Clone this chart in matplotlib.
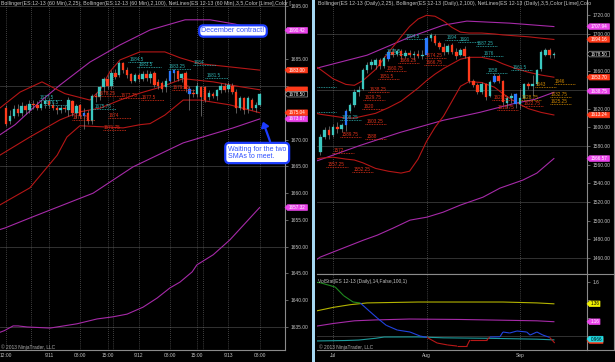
import matplotlib
matplotlib.use('Agg')
import matplotlib.pyplot as plt
import numpy as np
from matplotlib.patches import Polygon, Rectangle, FancyArrowPatch
from matplotlib.lines import Line2D
from matplotlib.collections import LineCollection
from matplotlib.transforms import IdentityTransform

plt.rcParams['font.family'] = ['Liberation Sans', 'DejaVu Sans']

# ---------------- data : left (60 min) ----------------
left_bars = list(range(-11, 55))
left_open = [1676.0, 1673.5, 1674.5, 1675.75, 1675.0, 1676.25, 1675.5, 1676.75, 1676.5, 1676.0, 1676.75,
             1677.25, 1676.5, 1676.0, 1675.5, 1676.0, 1675.5, 1677.25, 1675.0, 1676.5, 1674.5, 1675.0,
             1673.5, 1678.25, 1678.0, 1679.75, 1681.25, 1680.0, 1682.5, 1682.0, 1684.25, 1683.0, 1682.25,
             1681.0, 1682.0, 1681.25, 1682.25, 1681.5, 1682.5, 1680.75, 1680.5, 1679.75, 1681.0, 1682.5,
             1682.75, 1681.5, 1682.5, 1679.5, 1678.75, 1678.5, 1679.75, 1679.75, 1678.0, 1678.5, 1678.25,
             1679.25, 1680.0, 1679.5, 1680.0, 1679.0, 1676.0, 1677.75, 1675.75, 1677.5, 1676.0, 1676.5]
left_close = [1673.0, 1674.5, 1675.75, 1675.0, 1676.25, 1675.5, 1676.75, 1676.5, 1676.0, 1676.75, 1677.25,
              1676.5, 1676.0, 1675.5, 1676.0, 1675.75, 1677.5, 1675.0, 1676.25, 1674.5, 1675.0, 1673.5,
              1678.25, 1678.0, 1679.75, 1681.25, 1680.0, 1682.5, 1681.75, 1684.25, 1683.0, 1682.0, 1681.0,
              1682.0, 1681.25, 1682.25, 1681.5, 1682.25, 1680.25, 1680.0, 1679.5, 1681.0, 1682.75, 1683.0,
              1681.25, 1682.25, 1679.5, 1678.5, 1678.5, 1680.0, 1678.0, 1677.5, 1678.75, 1678.25, 1679.25,
              1680.0, 1679.25, 1680.25, 1679.0, 1676.0, 1677.75, 1675.5, 1677.75, 1676.0, 1676.5, 1678.5]
left_high = [1676.5, 1675.5, 1676.5, 1676.75, 1677.0, 1676.75, 1677.5, 1677.5, 1677.25, 1677.5, 1677.75,
             1677.75, 1677.0, 1676.5, 1676.5, 1676.5, 1678.0, 1677.5, 1676.75, 1676.75, 1676.0, 1675.5,
             1678.5, 1678.75, 1680.0, 1681.75, 1682.0, 1683.0, 1683.25, 1684.75, 1684.5, 1683.5, 1682.5,
             1682.5, 1682.5, 1682.75, 1683.0, 1682.75, 1682.75, 1681.25, 1681.0, 1681.5, 1683.0, 1683.25,
             1683.0, 1682.5, 1682.75, 1680.0, 1679.5, 1680.75, 1680.0, 1680.0, 1679.25, 1679.0, 1679.5,
             1680.5, 1680.5, 1680.75, 1680.5, 1679.5, 1678.25, 1678.0, 1678.25, 1677.75, 1677.0, 1678.75]
left_low = [1672.5, 1673.0, 1674.0, 1674.5, 1674.5, 1674.75, 1675.0, 1675.75, 1675.5, 1675.5, 1676.0,
            1676.0, 1675.5, 1674.75, 1675.0, 1675.25, 1674.5, 1674.5, 1674.0, 1674.0, 1672.0, 1673.0,
            1673.0, 1677.0, 1677.5, 1679.0, 1679.5, 1679.5, 1681.25, 1681.75, 1682.5, 1681.5, 1680.5,
            1680.75, 1680.75, 1681.0, 1681.0, 1680.5, 1679.75, 1679.5, 1679.0, 1679.0, 1680.5, 1681.0,
            1681.0, 1680.75, 1679.0, 1675.5, 1678.0, 1678.0, 1674.5, 1677.0, 1677.5, 1677.75, 1677.5,
            1678.75, 1679.0, 1679.0, 1678.5, 1675.0, 1675.5, 1674.75, 1675.0, 1675.5, 1675.25, 1676.25]
left_blue_bars = [9, 31, 32, 36]

left_bb_up_x = [-12.6, -7.4, -1.8, 4.1, 10.5, 13.1, 15.6, 18.2, 23.3, 29.7, 33.6, 38.7, 46.4, 54]
left_bb_up = [1675.9, 1678.9, 1680.8, 1678.6, 1677.4, 1679.3, 1682.7, 1684.9, 1686.4, 1686.4, 1685.3, 1684.2, 1683.6, 1683.0]
left_bb_mid_x = [-12.6, -4.9, 2.8, 7.9, 13.1, 18.2, 23.3, 28.5, 34.4, 42.1, 49.0, 54]
left_bb_mid = [1667.1, 1670.5, 1673.7, 1675.2, 1675.9, 1677.4, 1678.7, 1679.8, 1681.4, 1680.8, 1679.9, 1679.33]
left_bb_lo_x = [-12.6, -4.9, 2.1, 4.6, 7.9, 13.8, 19.0, 23.3, 25.9, 29.7, 34.4, 38.7, 46.4, 54]
left_bb_lo = [1657.8, 1661.0, 1667.1, 1670.5, 1672.6, 1672.4, 1672.2, 1672.8, 1673.0, 1674.6, 1677.4, 1677.4, 1676.5, 1675.04]

left_b100_up_x = [-12.6, -8.7, -2.3, 2.8, 10.5, 18.2, 25.9, 34.9, 41.3, 47.7, 54]
left_b100_up = [1670.9, 1672.8, 1677.1, 1680.2, 1684.5, 1687.7, 1690.5, 1692.4, 1692.4, 1691.6, 1690.42]
left_b100_mid_x = [-12.6, -11.3, -4.1, 11.3, 21.5, 34.4, 47.2, 54]
left_b100_mid = [1653.2, 1653.5, 1655.6, 1660.0, 1664.9, 1669.4, 1672.2, 1673.87]
left_b100_lo_x = [-12.6, -11.5, -9.2, -7.9, -5.6, 0.3, 7.2, 12.3, 16.4, 20.0, 24.1, 27.7, 31.0, 33.6, 36.7, 37.9, 42.1, 46.4, 54]
left_b100_lo = [1634.0, 1634.3, 1635.2, 1635.2, 1635.0, 1634.8, 1635.6, 1636.5, 1636.9, 1637.4, 1638.7, 1640.4,
                1642.3, 1643.4, 1645.3, 1646.6, 1648.5, 1651.3, 1657.32]

left_xtick_pos = [-11, 0, 8, 15, 23, 31, 38, 46, 54]
left_xtick_lab = ['12:00', '9/11', '08:00', '15:00', '9/12', '08:00', '15:00', '9/13', '08:00']
left_session_lines = [-4.6, 16.4, 39.5]

left_net_text = ['1684.5', '1683.5', '1684', '1681.5', '1683.25', '1677.5', '1676.5', '1675.75',
                 '1678.25', '1677.75', '1677.5', '1674', '1673.75', '1679.25', '1671.75']
left_net_x = [20.3, 22.6, 36.9, 40.0, 30.5, -2.6, -1.3, 11.3, 12.5, 18.0, 23.5, 15.1, 5.9, 31.5, 13.8]
left_net_kind = ['t', 't', 't', 't', 't', 't', 't', 't', 'r', 'r', 'r', 'r', 'r', 'r', 'r']

left_title = ('Bollinger(ES 12-13 (60 Min),2,25), Bollinger(ES 12-13 (60 Min),2,100), '
              'NetLines(ES 12-13 (60 Min),3,5,Color [Lime],Color [')
right_title = ('Bollinger(ES 12-13 (Daily),2,25), Bollinger(ES 12-13 (Daily),2,100), '
               'NetLines(ES 12-13 (Daily),3,5,Color [Lime],Colo')

# ---------------- data : right (daily) ----------------
right_idx = list(range(-3, 53))
right_open = [1574, 1590, 1597, 1592, 1600, 1598, 1602, 1618, 1624, 1638, 1641, 1661, 1667, 1667, 1672, 1666,
              1673, 1681, 1679, 1682, 1676, 1680, 1677, 1679, 1676, 1678, 1696, 1698, 1690, 1686, 1681, 1688,
              1681, 1677, 1684, 1675, 1650, 1645, 1638, 1646, 1634, 1649, 1655, 1650, 1626, 1631, 1636, 1625,
              1631, 1646, 1644, 1646, 1662, 1678, 1683, 1677]
right_high = [1593, 1600, 1601, 1604, 1606, 1605, 1620, 1626, 1641, 1644, 1664, 1670, 1673, 1674, 1674, 1676,
              1683, 1685, 1684, 1684, 1683, 1683, 1682, 1683, 1683, 1698, 1701, 1700, 1693, 1690, 1689, 1690,
              1685, 1685, 1687, 1676, 1652, 1648, 1649, 1648, 1651, 1658, 1657, 1651, 1634, 1637, 1637, 1641,
              1648, 1649, 1656, 1662, 1683, 1685, 1685, 1681]
right_low = [1570, 1587, 1588, 1590, 1594, 1595, 1596, 1615, 1622, 1634, 1640, 1658, 1663, 1662, 1663, 1664,
             1671, 1675, 1676, 1673, 1674, 1675, 1672, 1674, 1673, 1677, 1692, 1688, 1684, 1678, 1679, 1679,
             1673, 1676, 1674, 1648, 1643, 1636, 1636, 1629, 1632, 1647, 1648, 1624, 1621, 1626, 1621, 1620,
             1630, 1641, 1634, 1645, 1660, 1676, 1674, 1674]
right_close = [1590, 1597, 1592, 1600, 1598, 1602, 1618, 1624, 1638, 1640, 1661, 1667, 1670, 1672, 1666, 1674,
               1681, 1678, 1682, 1676, 1680, 1677, 1679, 1676, 1678, 1696, 1699, 1690, 1686, 1681, 1687, 1681,
               1676, 1683, 1676, 1650, 1645, 1638, 1646, 1633, 1649, 1655, 1650, 1627, 1631, 1634, 1625, 1631,
               1646, 1644, 1646, 1661, 1681, 1683, 1677, 1678.5]
right_blue_idx = [3, 13, 22, 38, 43]

right_bb_x = [-4, -3, 0, 3, 5, 7, 10, 13, 16, 18, 20, 22, 24, 26, 28, 30, 32, 35, 38, 40, 43, 46, 49, 52]
right_bb_up = [1665, 1662, 1652, 1646, 1645, 1650, 1662, 1680, 1697, 1708, 1716, 1720, 1719, 1714, 1707, 1702,
               1701, 1701, 1700, 1699, 1698, 1697, 1695.5, 1694.16]
right_bb_mid = [1615, 1614, 1612, 1610, 1610, 1612, 1615, 1621, 1628, 1635, 1642, 1650, 1657, 1663, 1668, 1673,
                1675, 1675, 1672, 1668, 1663, 1659, 1656, 1653.70]
right_bb_lo = [1566, 1567, 1568, 1566, 1565, 1562, 1556, 1553, 1551, 1553, 1566, 1585, 1600, 1612, 1628, 1644,
               1649, 1648, 1643, 1636, 1627, 1620, 1616, 1613.24]

right_b100_up_x = [-4, -3, 8, 18, 26, 31.5, 41.6, 52]
right_b100_up = [1663.0, 1664.4, 1677.3, 1696.6, 1709.5, 1713.8, 1711.6, 1707.94]
right_b100_mid_x = [-4, -3.5, 6.4, 15.8, 25.9, 34.6, 42.8, 47.5, 52]
right_b100_mid = [1564.0, 1564.6, 1580.7, 1594.6, 1607.5, 1616.1, 1625.7, 1630.0, 1637.5]
right_b100_lo_x = [-4, -3.1, 7.1, 10.4, 14.1, 18.1, 22.1, 25.9, 29.9, 35.3, 39.3, 44.7, 48, 52]
right_b100_lo = [1458.0, 1460.9, 1479.1, 1484.5, 1492.0, 1500.6, 1503.8, 1509.1, 1516.6, 1525.2, 1534.9, 1543.5,
                 1551.0, 1566.57]

right_xtick_pos = [0, 22, 44]
right_xtick_lab = ['Jul', 'Aug', 'Sep']

right_net_text = ['1694', '1691', '1687.25', '1676', '1661.5', '1658', '1694.5', '1678.5', '1608.25',
                  '1674.25', '1669.25', '1666.75', '1660.75', '1651.5', '1638.25', '1629.75', '1620', '1603.25',
                  '1589.75', '1588', '1572', '1557.25', '1552.25', '1629.5', '1618.75', '1622.75',
                  '1643', '1646', '1632.75', '1628.75', '1625.25']
right_net_x = [26.4, 29.4, 33.6, 35.1, 41.9, 36.0, 16.9, 12.2, 1.6,
               21.6, 15.3, 21.5, 12.2, 10.6, 8.2, 7.1, 6.8, 7.5,
               1.6, 7.5, -0.2, -1.6, 4.5, 37.5, 38.5, 44.5,
               47.5, 52.0, 51.0, 44.0, 51.0]
right_net_kind = ['t'] * 9 + ['r'] * 17 + ['o'] * 5
right_stub_x = [-3.8, -3.8]
right_stub_p = [1643.0, 1616.0]

# VolStat panel
vs_yel_x = [-4, 0, 4, 8, 20, 40, 48, 52]
vs_yel = [1.28, 1.32, 1.35, 1.37, 1.38, 1.38, 1.37, 1.36]
vs_mag_x = [-4, 0, 5, 10, 18, 30, 42, 48, 52]
vs_mag = [1.11, 1.14, 1.17, 1.18, 1.19, 1.185, 1.175, 1.17, 1.16]
vs_teal_x = [-4, 3, 6, 10, 12, 20, 26, 36, 42, 48, 52]
vs_teal = [0.945, 0.95, 0.955, 0.975, 0.989, 0.99, 0.98, 0.975, 0.97, 0.965, 0.957]
vs_x = [-4, -3, 0.5, 2.5, 4.7, 6.4, 8.5, 10.4, 12.5, 15.1, 18.1, 20.5, 22.1, 24.5, 27, 29.2, 31.5, 32.2,
        36.2, 36.9, 39.3, 40, 41.6, 43.3, 45.6, 46.4, 48, 49.4, 51, 52.2]
vs_val = [1.60, 1.595, 1.547, 1.45, 1.38, 1.369, 1.28, 1.201, 1.12, 1.067, 1.045, 1.0, 0.985, 0.922, 0.9,
          0.888, 0.888, 0.955, 0.955, 0.989, 0.992, 1.045, 1.034, 1.056, 1.045, 1.011, 1.045, 1.011, 0.985, 0.922]

# ---------------- styles ----------------
BG = 'black'
AXIS = '#8a8a8a'
TXT = '#c4c4c4'
UP = '#3cc8c0'
DN = '#ff3b1c'
BLU = '#2a78ff'
WICK = '#8c8c8c'
BBRED = '#b51616'
MAG = '#a62aa8'
NETC = {'t': '#2fb2b2', 'r': '#e3321a', 'o': '#d08800'}
FS = 3.5

W, H = 615, 362
fig = plt.figure(figsize=(W / 100, H / 100), dpi=100, facecolor=BG)


def add_ax(x0, y0, x1, y1):
    ax = fig.add_axes([x0 / W, 1 - y1 / H, (x1 - x0) / W, (y1 - y0) / H])
    ax.set_facecolor(BG)
    for s in ['top', 'left']:
        ax.spines[s].set_visible(False)
    for s in ['right', 'bottom']:
        ax.spines[s].set_color(AXIS)
        ax.spines[s].set_linewidth(0.8)
    ax.yaxis.tick_right()
    ax.tick_params(axis='y', colors=AXIS, labelcolor=TXT, labelsize=FS, length=2.5, width=0.5,
                   pad=1.2, direction='out')
    ax.tick_params(axis='x', colors=AXIS, labelcolor=TXT, labelsize=FS, length=0, pad=2.5)
    return ax


def yticks_hidden(ax, ticks, labels, tagvals, thresh=5.0):
    out = []
    for t, lab in zip(ticks, labels):
        yt = ax.transData.transform((0, t))[1]
        hide = any(abs(ax.transData.transform((0, v))[1] - yt) < thresh for v in tagvals)
        out.append('' if hide else lab)
    ax.set_yticks(ticks)
    ax.set_yticklabels(out)


def candles(ax, xs, o, h, l, c, blue, w, minh):
    o = np.array(o, float); c = np.array(c, float)
    cols = [BLU if x in blue else (UP if cc >= oo else DN) for x, oo, cc in zip(xs, o, c)]
    ax.vlines(xs, l, h, color=WICK, lw=0.45, zorder=3)
    bottoms = np.minimum(o, c)
    heights = np.maximum(np.abs(c - o), minh)
    ax.bar(xs, heights, bottom=bottoms, width=w, color=cols, edgecolor=cols, lw=0.2, zorder=4)


def netlabels(ax, texts, xs, kinds, length):
    for t, x, k in zip(texts, xs, kinds):
        p = float(t)
        col = NETC[k]
        ax.plot([x, x + length], [p, p], ls=(0, (1, 1)), color=col, lw=0.6, zorder=5)
        ax.text(x + 0.3, p, t, color=col, fontsize=3.3, va='bottom', ha='left', zorder=6, clip_on=True)


def tag(ax, val, label, fc, tc, ec=None, w=22.5, h=5.6):
    x0 = ax.transAxes.transform((1, 0))[0]
    y = ax.transData.transform((0, val))[1]
    pts = [(x0, y), (x0 + 2.5, y + h / 2), (x0 + w, y + h / 2), (x0 + w, y - h / 2), (x0 + 2.5, y - h / 2)]
    fig.add_artist(Polygon(pts, closed=True, fc=fc, ec=ec or fc, lw=0.5, transform=IdentityTransform(),
                           zorder=5))
    if label:
        fig.text((x0 + 4.0) / W, y / H, label, color=tc, fontsize=3.3, va='center', ha='left', zorder=6)


MAGT = '#ea44ea'
REDT = '#ff3a1a'
left_tags = [(1690.42, MAGT), (1683.00, REDT), (1679.33, REDT), (1678.50, 'black'), (1675.04, REDT),
             (1673.87, MAGT), (1657.32, MAGT)]
right_tags = [(1707.94, MAGT), (1694.16, REDT), (1678.50, 'black'), (1653.70, REDT), (1638.75, MAGT),
              (1613.24, REDT), (1566.57, MAGT)]
vol_tags = [(1.36, '#f0f000'), (1.16, MAGT), (0.95, REDT), (0.966, '#20e0e8')]

# ---------------- left panel ----------------
axL = add_ax(0, 0, 285, 350)
axL.set_xlim(-12.56, 60.5)
axL.set_ylim(1630.7, 1696.1)
lt = list(np.arange(1635, 1696, 5))
yticks_hidden(axL, lt, [f'{v:.2f}' for v in lt], [v for v, _ in left_tags])
axL.set_xticks(left_xtick_pos)
axL.set_xticklabels(left_xtick_lab)
for v in [1635, 1650, 1665, 1680, 1695]:
    axL.axhline(v, color='#3a3a3a', lw=0.6, zorder=1)
for v in left_xtick_pos + left_session_lines:
    axL.axvline(v, color='#7a7a7a', lw=0.5, ls=(0, (1, 2)), zorder=1)

axL.plot(left_b100_up_x, left_b100_up, color=MAG, lw=0.8, zorder=2)
axL.plot(left_b100_mid_x, left_b100_mid, color=MAG, lw=0.8, zorder=2)
axL.plot(left_b100_lo_x, left_b100_lo, color=MAG, lw=0.8, zorder=2)
axL.plot(left_bb_up_x, left_bb_up, color=BBRED, lw=0.8, zorder=2)
axL.plot(left_bb_mid_x, left_bb_mid, color=BBRED, lw=0.8, zorder=2)
axL.plot(left_bb_lo_x, left_bb_lo, color=BBRED, lw=0.8, zorder=2)
candles(axL, left_bars, left_open, left_high, left_low, left_close, left_blue_bars, 0.62, 0.12)
netlabels(axL, left_net_text, left_net_x, left_net_kind, 6.0)
fig.text(1 / W, 1 - 1.5 / H, left_title, color=TXT, fontsize=3.75, va='top', ha='left')

# ---------------- right price panel ----------------
axR = add_ax(317, 0, 587, 274)
axR.set_xlim(-3.8, 59.8)
axR.set_ylim(1442.9, 1736.4)
rt = list(np.arange(1460, 1721, 20))
yticks_hidden(axR, rt, [f'{v:.2f}' for v in rt], [v for v, _ in right_tags])
axR.set_xticks([])
for v in [1460, 1520, 1580, 1640, 1700]:
    axR.axhline(v, color='#3a3a3a', lw=0.6, zorder=1)
for v in right_xtick_pos:
    axR.axvline(v, color='#7a7a7a', lw=0.5, ls=(0, (1, 2)), zorder=1)
axR.plot(right_b100_up_x, right_b100_up, color=MAG, lw=0.8, zorder=2)
axR.plot(right_b100_mid_x, right_b100_mid, color=MAG, lw=0.8, zorder=2)
axR.plot(right_b100_lo_x, right_b100_lo, color=MAG, lw=0.8, zorder=2)
axR.plot(right_bb_x, right_bb_up, color=BBRED, lw=0.8, zorder=2)
axR.plot(right_bb_x, right_bb_mid, color=BBRED, lw=0.8, zorder=2)
axR.plot(right_bb_x, right_bb_lo, color=BBRED, lw=0.8, zorder=2)
candles(axR, right_idx, right_open, right_high, right_low, right_close, right_blue_idx, 0.6, 0.6)
netlabels(axR, right_net_text, right_net_x, right_net_kind, 5.0)
for x, p in zip(right_stub_x, right_stub_p):
    axR.plot([x, x + 4.5], [p, p], ls=(0, (1, 1)), color=NETC['t'], lw=0.6, zorder=5)
fig.text(318 / W, 1 - 1.5 / H, right_title, color=TXT, fontsize=3.75, va='top', ha='left')

# ---------------- right indicator panel ----------------
axV = add_ax(317, 274, 587, 350)
axV.set_xlim(-3.8, 59.8)
axV.set_ylim(0.844, 1.693)
yticks_hidden(axV, [1.0, 1.2, 1.4, 1.6], ['1', '1.2', '1.4', '1.6'], [v for v, _ in vol_tags])
axV.set_xticks(right_xtick_pos)
axV.set_xticklabels(right_xtick_lab)
axV.axhline(1.0, color='#3a3a3a', lw=0.6, zorder=1)
for v in right_xtick_pos:
    axV.axvline(v, color='#7a7a7a', lw=0.5, ls=(0, (1, 2)), zorder=1)
axV.plot(vs_yel_x, vs_yel, color='#b4b400', lw=0.8, zorder=2)
axV.plot(vs_mag_x, vs_mag, color=MAG, lw=0.8, zorder=2)
axV.plot(vs_teal_x, vs_teal, color='#1c9c9c', lw=0.8, zorder=2)
vx = np.array(vs_x); vv = np.array(vs_val)
segs, cols = [], []
for i in range(len(vx) - 1):
    mx = (vx[i] + vx[i + 1]) / 2
    mv = (vv[i] + vv[i + 1]) / 2
    if mv > np.interp(mx, vs_yel_x, vs_yel):
        cols.append('#1f8a1f')
    elif mv < np.interp(mx, vs_teal_x, vs_teal):
        cols.append('#b81818')
    else:
        cols.append('#2244e0')
    segs.append([(vx[i], vv[i]), (vx[i + 1], vv[i + 1])])
axV.add_collection(LineCollection(segs, colors=cols, lw=0.8, zorder=3))

# ---------------- frame lines / decorations ----------------
fig.add_artist(Line2D([317 / W, 614 / W], [1 - 274 / H, 1 - 274 / H], color=AXIS, lw=0.8))
fig.add_artist(Line2D([613.5 / W, 613.5 / W], [1 - 350 / H, 1], color=AXIS, lw=0.8))
fig.add_artist(Line2D([587 / W, 614 / W], [1 - 350 / H, 1 - 350 / H], color=AXIS, lw=0.8))
fig.add_artist(Rectangle((311.5 / W, 0), 3 / W, 1, transform=fig.transFigure, fc='#a6d8f2', ec='none'))

fig.text(318 / W, 1 - 282 / H, 'VolStat(ES 12-13 (Daily),14,False,100,1)', color=TXT, fontsize=FS,
         va='center', ha='left')
fig.text(1 / W, 1 - 347.5 / H, '© 2013 NinjaTrader, LLC', color='#b0b0b0', fontsize=FS, va='center')
fig.text(319 / W, 1 - 347.5 / H, '© 2013 NinjaTrader, LLC', color='#b0b0b0', fontsize=FS, va='center')

# tags
for v, c in left_tags:
    if c == 'black':
        tag(axL, v, f'{v:.2f}', 'black', 'white', ec='#a0a0a0')
    elif v == 1679.33:
        tag(axL, v, '', c, 'white')
    else:
        tag(axL, v, f'{v:.2f}', c, 'white')
for v, c in right_tags:
    if c == 'black':
        tag(axR, v, f'{v:.2f}', 'black', 'white', ec='#a0a0a0')
    else:
        tag(axR, v, f'{v:.2f}', c, 'white')
tag(axV, 1.36, '1.36', '#f0f000', 'black', w=13)
tag(axV, 1.16, '1.16', MAGT, 'white', w=13)
tag(axV, 0.95, '', REDT, 'white', w=16)
tag(axV, 0.966, '0.966', '#20e0e8', 'black', w=16)

# callouts
BLUEC = '#1c3cff'
arr = FancyArrowPatch(posA=(271, H - 144), posB=(262, H - 119), transform=IdentityTransform(),
                      arrowstyle='-|>,head_length=3,head_width=2.2', lw=1.6, color=BLUEC, zorder=7)
fig.add_artist(arr)
fig.text(233 / W, 1 - 31 / H, 'December contract!', color='#3050ff', fontsize=5.2, ha='center', va='center',
         zorder=8, bbox=dict(boxstyle='round,pad=0.3,rounding_size=0.6', fc='white', ec=BLUEC, lw=1.6))
fig.text(228 / W, 1 - 153 / H, 'Waiting for the two\nSMAs to meet.', color='#3050ff', fontsize=5.0,
         ha='left', va='center', linespacing=1.15, zorder=8,
         bbox=dict(boxstyle='round,pad=0.4,rounding_size=0.6', fc='white', ec=BLUEC, lw=1.6))

fig.savefig('out.png', dpi=100, facecolor=BG)
